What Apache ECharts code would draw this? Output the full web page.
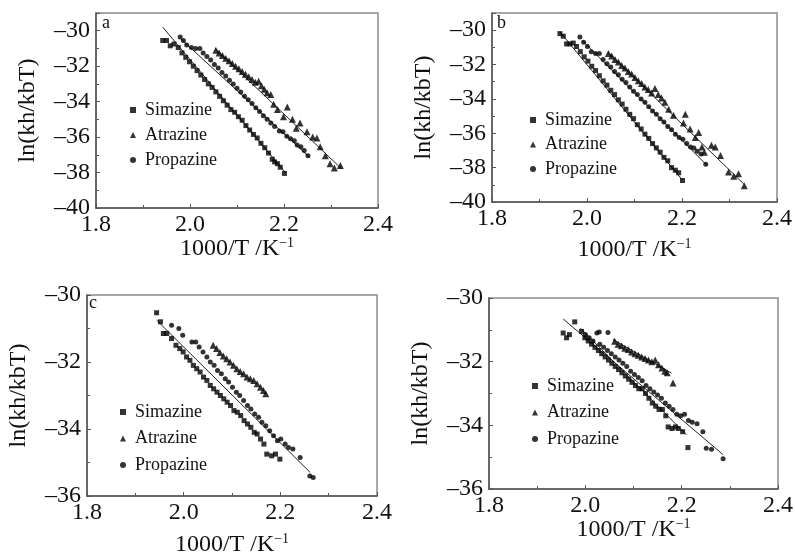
<!DOCTYPE html>
<html>
<head>
<meta charset="utf-8">
<script src="https://cdn.jsdelivr.net/npm/echarts@6/dist/echarts.min.js"></script>
<style>
html,body{margin:0;padding:0;background:#fff;}
#chart{width:795px;height:553px;}
</style>
</head>
<body>
<div id="chart"></div>
<script>
// ---------- data ----------
const seriesNames = ['Simazine', 'Atrazine', 'Propazine'];
const panelLabels = ['a', 'b', 'c', ''];
const xTickRange = [1.8, 2.4];
const yRangeTop = [-40, -29];
const yRangeBottom = [-36, -30];

// panel a
const simA = [[1.942,-30.55],[1.950,-30.55],[1.958,-30.85],[1.966,-30.75],[1.975,-30.95],[1.983,-31.25],[1.991,-31.5],[1.999,-31.75],[2.007,-32.0],[2.015,-32.25],[2.023,-32.5],[2.031,-32.75],[2.039,-33.0],[2.047,-33.2],[2.055,-33.45],[2.063,-33.7],[2.071,-33.95],[2.079,-34.2],[2.087,-34.45],[2.095,-34.6],[2.103,-34.85],[2.111,-35.05],[2.119,-35.35],[2.127,-35.6],[2.135,-35.85],[2.143,-36.05],[2.151,-36.35],[2.159,-36.6],[2.167,-36.9],[2.175,-37.25],[2.180,-37.4],[2.186,-37.5],[2.192,-37.7],[2.201,-38.05]];
const atrA = [[2.055,-31.1],[2.062,-31.25],[2.069,-31.4],[2.076,-31.55],[2.083,-31.7],[2.090,-31.85],[2.097,-32.0],[2.104,-32.15],[2.111,-32.3],[2.118,-32.45],[2.125,-32.6],[2.132,-32.75],[2.139,-32.9],[2.146,-32.85],[2.152,-33.1],[2.158,-33.3],[2.164,-33.5],[2.172,-33.6],[2.178,-34.15],[2.186,-34.45],[2.199,-34.85],[2.207,-34.3],[2.218,-35.0],[2.226,-35.5],[2.234,-35.2],[2.249,-35.7],[2.261,-36.0],[2.270,-36.05],[2.277,-36.55],[2.288,-37.05],[2.298,-37.5],[2.307,-37.75],[2.320,-37.6]];
const proA = [[1.979,-30.35],[1.986,-30.55],[1.993,-30.8],[2.003,-30.95],[2.012,-31.0],[2.021,-31.0],[2.028,-31.25],[2.036,-31.45],[2.044,-31.65],[2.052,-31.9],[2.060,-32.1],[2.068,-32.35],[2.076,-32.55],[2.084,-32.8],[2.092,-33.0],[2.100,-33.25],[2.108,-33.45],[2.116,-33.7],[2.124,-33.9],[2.132,-34.1],[2.140,-34.35],[2.148,-34.55],[2.156,-34.8],[2.164,-35.0],[2.172,-35.2],[2.180,-35.4],[2.190,-35.65],[2.198,-35.7],[2.206,-35.95],[2.214,-36.1],[2.222,-36.2],[2.228,-36.45],[2.236,-36.55],[2.243,-36.75],[2.251,-37.05]];
const fitA = [[[1.942,-29.8],[2.203,-38.0]], [[2.053,-31.0],[2.323,-37.8]], [[1.98,-30.45],[2.255,-37.15]]];

// panel b
const simB = [[1.943,-30.2],[1.950,-30.35],[1.957,-30.8],[1.964,-30.8],[1.971,-30.75],[1.978,-30.95],[1.986,-31.25],[1.994,-31.55],[2.002,-31.8],[2.010,-32.1],[2.018,-32.35],[2.026,-32.65],[2.034,-32.95],[2.042,-33.2],[2.050,-33.5],[2.058,-33.75],[2.066,-34.05],[2.074,-34.3],[2.082,-34.6],[2.090,-34.9],[2.098,-35.15],[2.106,-35.5],[2.114,-35.75],[2.122,-36.05],[2.130,-36.3],[2.138,-36.6],[2.146,-36.85],[2.154,-37.1],[2.162,-37.4],[2.170,-37.6],[2.178,-38.0],[2.186,-38.15],[2.193,-38.3],[2.201,-38.75]];
const atrB = [[2.045,-31.35],[2.052,-31.5],[2.059,-31.7],[2.066,-31.85],[2.073,-32.05],[2.080,-32.2],[2.087,-32.4],[2.094,-32.55],[2.101,-32.75],[2.108,-32.95],[2.115,-33.1],[2.122,-33.3],[2.129,-33.45],[2.136,-33.65],[2.143,-33.4],[2.150,-33.75],[2.157,-33.95],[2.164,-34.2],[2.172,-34.6],[2.182,-34.95],[2.207,-34.9],[2.203,-35.4],[2.217,-35.75],[2.228,-36.25],[2.235,-35.95],[2.242,-36.8],[2.247,-37.1],[2.262,-36.7],[2.270,-36.8],[2.281,-37.3],[2.298,-38.25],[2.309,-38.5],[2.319,-38.35],[2.331,-39.05]];
const proB = [[1.985,-30.4],[1.993,-30.7],[2.001,-30.95],[2.009,-31.25],[2.018,-31.35],[2.026,-31.35],[2.034,-31.7],[2.042,-31.95],[2.050,-32.15],[2.058,-32.4],[2.066,-32.6],[2.074,-32.85],[2.082,-33.05],[2.090,-33.3],[2.098,-33.55],[2.106,-33.75],[2.114,-34.0],[2.122,-34.2],[2.130,-34.45],[2.138,-34.7],[2.146,-34.9],[2.154,-35.15],[2.162,-35.35],[2.170,-35.6],[2.178,-35.8],[2.186,-36.05],[2.194,-36.25],[2.202,-36.35],[2.210,-36.6],[2.218,-36.8],[2.225,-36.85],[2.232,-37.05],[2.240,-37.2],[2.250,-37.8]];
const fitB = [[[1.943,-30.1],[2.2,-38.7]], [[2.045,-31.3],[2.33,-38.95]], [[1.99,-30.6],[2.252,-37.85]]];

// panel c
const simC = [[1.944,-30.53],[1.952,-30.8],[1.958,-31.15],[1.965,-31.15],[1.975,-31.3],[1.984,-31.5],[1.992,-31.6],[1.999,-31.7],[2.006,-31.85],[2.013,-31.95],[2.020,-32.1],[2.027,-32.2],[2.034,-32.3],[2.041,-32.45],[2.048,-32.55],[2.055,-32.7],[2.062,-32.8],[2.069,-32.9],[2.076,-33.0],[2.083,-33.1],[2.090,-33.2],[2.097,-33.3],[2.104,-33.45],[2.111,-33.5],[2.118,-33.6],[2.125,-33.75],[2.132,-33.85],[2.139,-33.95],[2.146,-34.1],[2.152,-34.15],[2.159,-34.3],[2.166,-34.45],[2.172,-34.75],[2.182,-34.8],[2.190,-34.75],[2.199,-34.9]];
const atrC = [[2.061,-31.5],[2.068,-31.6],[2.075,-31.72],[2.082,-31.82],[2.089,-31.9],[2.096,-32.0],[2.103,-32.1],[2.110,-32.2],[2.117,-32.28],[2.124,-32.35],[2.131,-32.45],[2.138,-32.5],[2.145,-32.55],[2.152,-32.65],[2.159,-32.75],[2.165,-32.85],[2.170,-32.95]];
const proC = [[1.975,-30.9],[1.990,-31.0],[1.998,-31.2],[2.017,-31.4],[2.025,-31.4],[2.032,-31.55],[2.040,-31.7],[2.048,-31.85],[2.055,-32.0],[2.063,-32.1],[2.070,-32.25],[2.078,-32.35],[2.086,-32.5],[2.093,-32.6],[2.101,-32.75],[2.109,-32.9],[2.116,-33.0],[2.124,-33.15],[2.132,-33.3],[2.139,-33.4],[2.147,-33.55],[2.155,-33.65],[2.162,-33.8],[2.170,-33.9],[2.178,-34.05],[2.186,-34.2],[2.194,-34.35],[2.201,-34.3],[2.210,-34.45],[2.217,-34.55],[2.226,-34.6],[2.241,-34.85],[2.261,-35.4],[2.268,-35.45]];
const fitC = [[[1.944,-30.75],[2.262,-35.3]]];

// panel d
const simD = [[1.954,-31.1],[1.961,-31.25],[1.967,-31.15],[1.978,-30.75],[1.992,-31.05],[1.999,-31.25],[2.006,-31.35],[2.013,-31.45],[2.020,-31.55],[2.027,-31.65],[2.034,-31.75],[2.041,-31.85],[2.048,-31.95],[2.055,-32.05],[2.062,-32.15],[2.069,-32.25],[2.076,-32.35],[2.083,-32.45],[2.090,-32.55],[2.097,-32.65],[2.104,-32.75],[2.111,-32.85],[2.118,-32.85],[2.125,-33.0],[2.132,-33.15],[2.139,-33.3],[2.146,-33.4],[2.153,-33.5],[2.160,-33.5],[2.167,-33.7],[2.172,-34.05],[2.180,-34.1],[2.187,-34.05],[2.193,-34.1],[2.202,-34.2],[2.213,-34.7]];
const atrD = [[2.061,-31.36],[2.068,-31.45],[2.075,-31.5],[2.082,-31.58],[2.089,-31.62],[2.096,-31.7],[2.103,-31.75],[2.110,-31.8],[2.117,-31.85],[2.124,-31.9],[2.131,-31.95],[2.138,-32.0],[2.145,-31.95],[2.152,-32.1],[2.159,-32.2],[2.165,-32.3],[2.170,-32.35],[2.182,-32.67]];
const proD = [[2.000,-31.15],[2.008,-31.25],[2.016,-31.35],[2.024,-31.1],[2.029,-31.07],[2.047,-31.08],[2.030,-31.45],[2.038,-31.55],[2.046,-31.65],[2.054,-31.75],[2.062,-31.85],[2.070,-31.95],[2.078,-32.05],[2.086,-32.15],[2.094,-32.3],[2.102,-32.4],[2.110,-32.5],[2.118,-32.6],[2.126,-32.75],[2.134,-32.85],[2.142,-32.95],[2.150,-33.05],[2.158,-33.15],[2.166,-33.3],[2.174,-33.4],[2.182,-33.5],[2.190,-33.65],[2.198,-33.7],[2.206,-33.65],[2.214,-33.85],[2.222,-33.9],[2.232,-33.95],[2.244,-34.2],[2.251,-34.72],[2.262,-34.75],[2.286,-35.05]];
const fitD = [[[1.954,-30.66],[2.286,-34.92]], [[1.99,-30.95],[2.21,-34.3]], [[2.057,-31.3],[2.179,-32.36]]];

// ---------- layout ----------
const FONT = '"Liberation Serif", "Times New Roman", serif';
const panels = [
  {grid:{left:96, top:13, width:282, height:195}, y:yRangeTop, data:[simA, atrA, proA], fits:fitA, legend:{left:125, top:96, gap:7}, label:[107,25], xGap:28},
  {grid:{left:492, top:13, width:285, height:189}, y:yRangeTop, data:[simB, atrB, proB], fits:fitB, legend:{left:525, top:106, gap:6.5}, label:[502,25], xGap:35},
  {grid:{left:87, top:295, width:290, height:201}, y:yRangeBottom, data:[simC, atrC, proC], fits:fitC, legend:{left:115, top:398, gap:8.5}, label:[94,305], xGap:36},
  {grid:{left:489, top:298, width:289, height:191}, y:yRangeBottom, data:[simD, atrD, proD], fits:fitD, legend:{left:527, top:372, gap:8.5}, label:[500,310], xGap:28}
];
const symbols = ['rect', 'triangle', 'circle'];
const symbolSizes = [5, 7, 5];

const axisColor = '#555';
const grids = [], xAxes = [], yAxes = [], series = [], legends = [], graphics = [];
panels.forEach((p, i) => {
  grids.push(Object.assign({show:true, borderColor:'#8a8a8a', borderWidth:1.5, backgroundColor:'transparent',
    containLabel:false, outerBoundsMode:'none'}, p.grid));
  xAxes.push({
    type:'value', gridIndex:i, min:xTickRange[0], max:xTickRange[1], interval:0.2,
    axisLine:{show:true, onZero:false, lineStyle:{color:axisColor, width:1.5}},
    axisTick:{show:true, inside:true, length:4, lineStyle:{color:axisColor}},
    minorTick:{show:true, splitNumber:2, length:3, lineStyle:{color:axisColor}},
    splitLine:{show:false},
    axisLabel:{color:'#111', fontFamily:FONT, fontSize:24, margin:5, formatter:v => v.toFixed(1)},
    name:'{m|1000/T /K}{s|\u22121}', nameLocation:'middle', nameGap:p.xGap, nameMoveOverlap:false,
    nameTextStyle:{rich:{
      m:{fontFamily:FONT, fontSize:24, color:'#111', lineHeight:26},
      s:{fontFamily:FONT, fontSize:14, color:'#111', lineHeight:14, verticalAlign:'top'}
    }}
  });
  yAxes.push({
    type:'value', gridIndex:i, min:p.y[0], max:p.y[1], interval:2,
    axisLine:{show:true, onZero:false, lineStyle:{color:axisColor, width:1.5}},
    axisTick:{show:true, inside:true, length:4, lineStyle:{color:axisColor}},
    minorTick:{show:true, splitNumber:2, length:3, lineStyle:{color:axisColor}},
    splitLine:{show:false},
    axisLabel:{color:'#111', fontFamily:FONT, fontSize:24, margin:6, showMaxLabel:p.y[1] % 2 === 0,
      formatter:v => String(v).replace('-', '\u2013')},
    name:'ln(kh/kbT)', nameLocation:'middle', nameGap:56, nameMoveOverlap:false,
    nameTextStyle:{fontFamily:FONT, fontSize:24, color:'#111'}
  });
  p.data.forEach((d, k) => {
    series.push({
      type:'scatter', name:seriesNames[k], xAxisIndex:i, yAxisIndex:i, data:d,
      symbol:symbols[k], symbolSize:symbolSizes[k],
      itemStyle:{color:'#000'}, z:3
    });
  });
  p.fits.forEach(f => {
    series.push({
      type:'line', name:'fit', xAxisIndex:i, yAxisIndex:i, data:f,
      symbol:'none', silent:true, lineStyle:{color:'#222', width:1}, z:2
    });
  });
  legends.push({
    orient:'vertical', left:p.legend.left, top:p.legend.top,
    data:[{name:seriesNames[0], icon:'rect'}, {name:seriesNames[1], icon:'triangle'}, {name:seriesNames[2], icon:'circle'}],
    itemWidth:6, itemHeight:6, itemGap:p.legend.gap, selectedMode:false,
    textStyle:{fontFamily:FONT, fontSize:18, color:'#111', lineHeight:18, padding:[0,0,0,4]}
  });
  if (panelLabels[i]) {
    graphics.push({type:'text', left:p.label[0] - 5, top:p.label[1] - 11,
      style:{text:panelLabels[i], font:'18px ' + FONT, fill:'#111'}});
  }
});

const chart = echarts.init(document.getElementById('chart'), null, {renderer:'canvas'});
chart.setOption({
  animation:false,
  backgroundColor:'#fff',
  grid:grids, xAxis:xAxes, yAxis:yAxes, series:series, legend:legends, graphic:graphics
});
</script>
</body>
</html>
